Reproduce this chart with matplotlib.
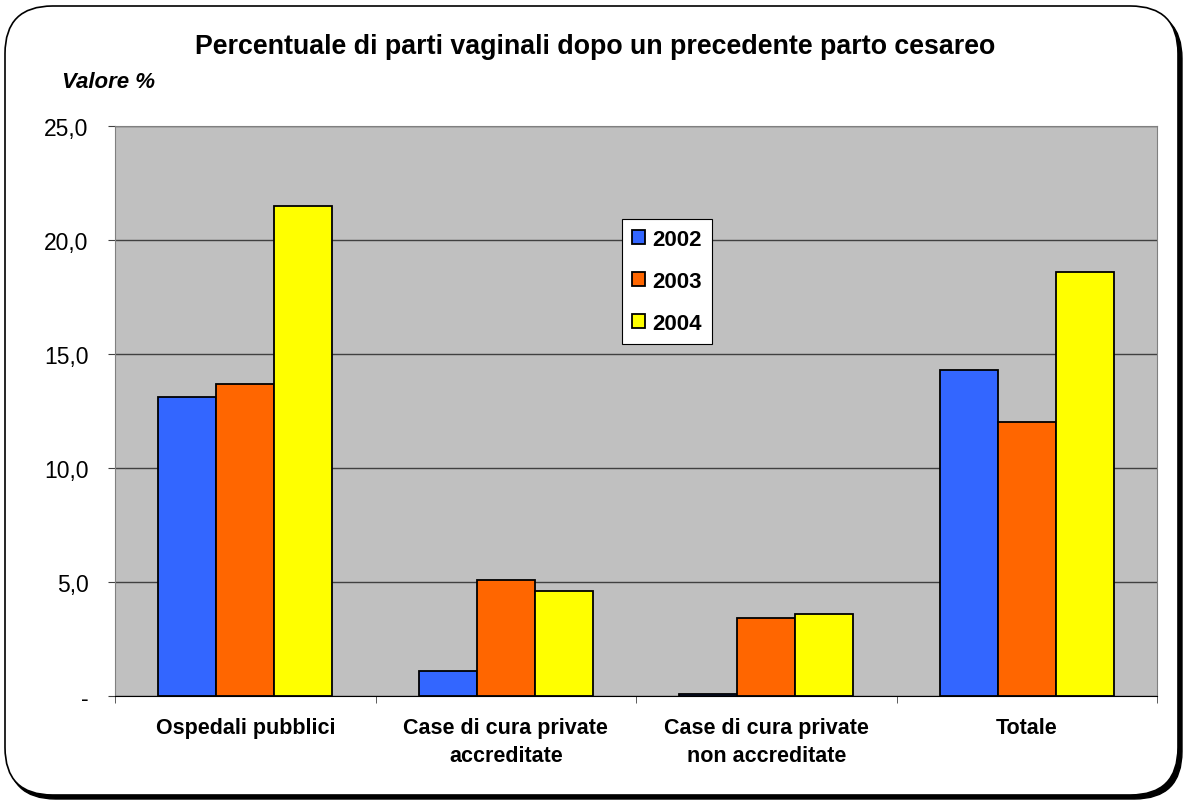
import numpy as np
import matplotlib.pyplot as plt
from matplotlib.patches import FancyBboxPatch

plt.rcParams['font.family'] = ['Liberation Sans', 'DejaVu Sans']

categorie = ["Ospedali pubblici", "Case di cura private\naccreditate",
             "Case di cura private\nnon accreditate", "Totale"]
anni = ["2002", "2003", "2004"]
v2002 = [13.1, 1.1, 0.1, 14.3]
v2003 = [13.7, 5.1, 3.4, 12.0]
v2004 = [21.5, 4.6, 3.6, 18.6]
colori = ["#3366FF", "#FF6600", "#FFFF00"]
yticks = [0, 5, 10, 15, 20, 25]
ylabels = ["-", "5,0", "10,0", "15,0", "20,0", "25,0"]

W, H = 1188, 803
fig = plt.figure(figsize=(W / 100, H / 100), dpi=100)

# bordo arrotondato con ombra
ombra = FancyBboxPatch((8 / W, 3 / H), 1174 / W, 788 / H,
                       boxstyle="round,pad=0,rounding_size=0.04",
                       transform=fig.transFigure, facecolor="black",
                       edgecolor="black", lw=1, mutation_aspect=W / H,
                       zorder=-10)
fig.patches.append(ombra)
bordo = FancyBboxPatch((5 / W, 7 / H), 1173 / W, 789 / H,
                       boxstyle="round,pad=0,rounding_size=0.04",
                       transform=fig.transFigure, facecolor="white",
                       edgecolor="black", lw=1.2, mutation_aspect=W / H,
                       zorder=-9)
fig.patches.append(bordo)

ax = fig.add_axes([115 / W, 1 - 697 / H, (1157 - 115) / W, (697 - 127) / H])
ax.set_facecolor("#C0C0C0")

x = np.arange(len(categorie))
w = 0.223
for k, (vals, anno) in enumerate(zip([v2002, v2003, v2004], anni)):
    ax.bar(x + (k - 1) * w, vals, width=w, color=colori[k],
           edgecolor="black", linewidth=1.3, label=anno, zorder=3)

ax.set_xlim(-0.5, len(categorie) - 0.5)
ax.set_ylim(0, 25)
ax.set_yticks(yticks)
ax.set_yticklabels(ylabels, fontsize=16.5)
ax.yaxis.grid(True, color="#404040", linewidth=1, zorder=1)
ax.set_xticks(x)
ax.set_xticklabels(categorie, fontsize=15.5, fontweight="bold",
                   linespacing=1.45)
ax.tick_params(axis="x", length=0, pad=15)
ax.set_xticks(np.arange(len(categorie) + 1) - 0.5, minor=True)
ax.tick_params(axis="x", which="minor", length=5, color="#404040")
ax.tick_params(axis="y", length=5, color="#404040", pad=14)
for s in ax.spines.values():
    s.set_color("#808080")
ax.spines["bottom"].set_color("black")

leg = ax.legend(loc="upper left", bbox_to_anchor=((622 - 115) / 1042, (697 - 220) / 570),
                prop={"weight": "bold", "size": 16},
                frameon=True, fancybox=False, edgecolor="black",
                facecolor="white", framealpha=1,
                handlelength=0.6, handleheight=0.6, handletextpad=0.3,
                labelspacing=0.95, borderpad=0.45, borderaxespad=0)
leg.get_frame().set_linewidth(0.8)

fig.text(595 / W, 1 - 47 / H, "Percentuale di parti vaginali dopo un precedente parto cesareo",
         ha="center", va="center", fontsize=19.3, fontweight="bold")
fig.text(62 / W, 1 - 82 / H, "Valore %", ha="left", va="center",
         fontsize=16, fontweight="bold", style="italic")

fig.savefig("out.png", dpi=100)
